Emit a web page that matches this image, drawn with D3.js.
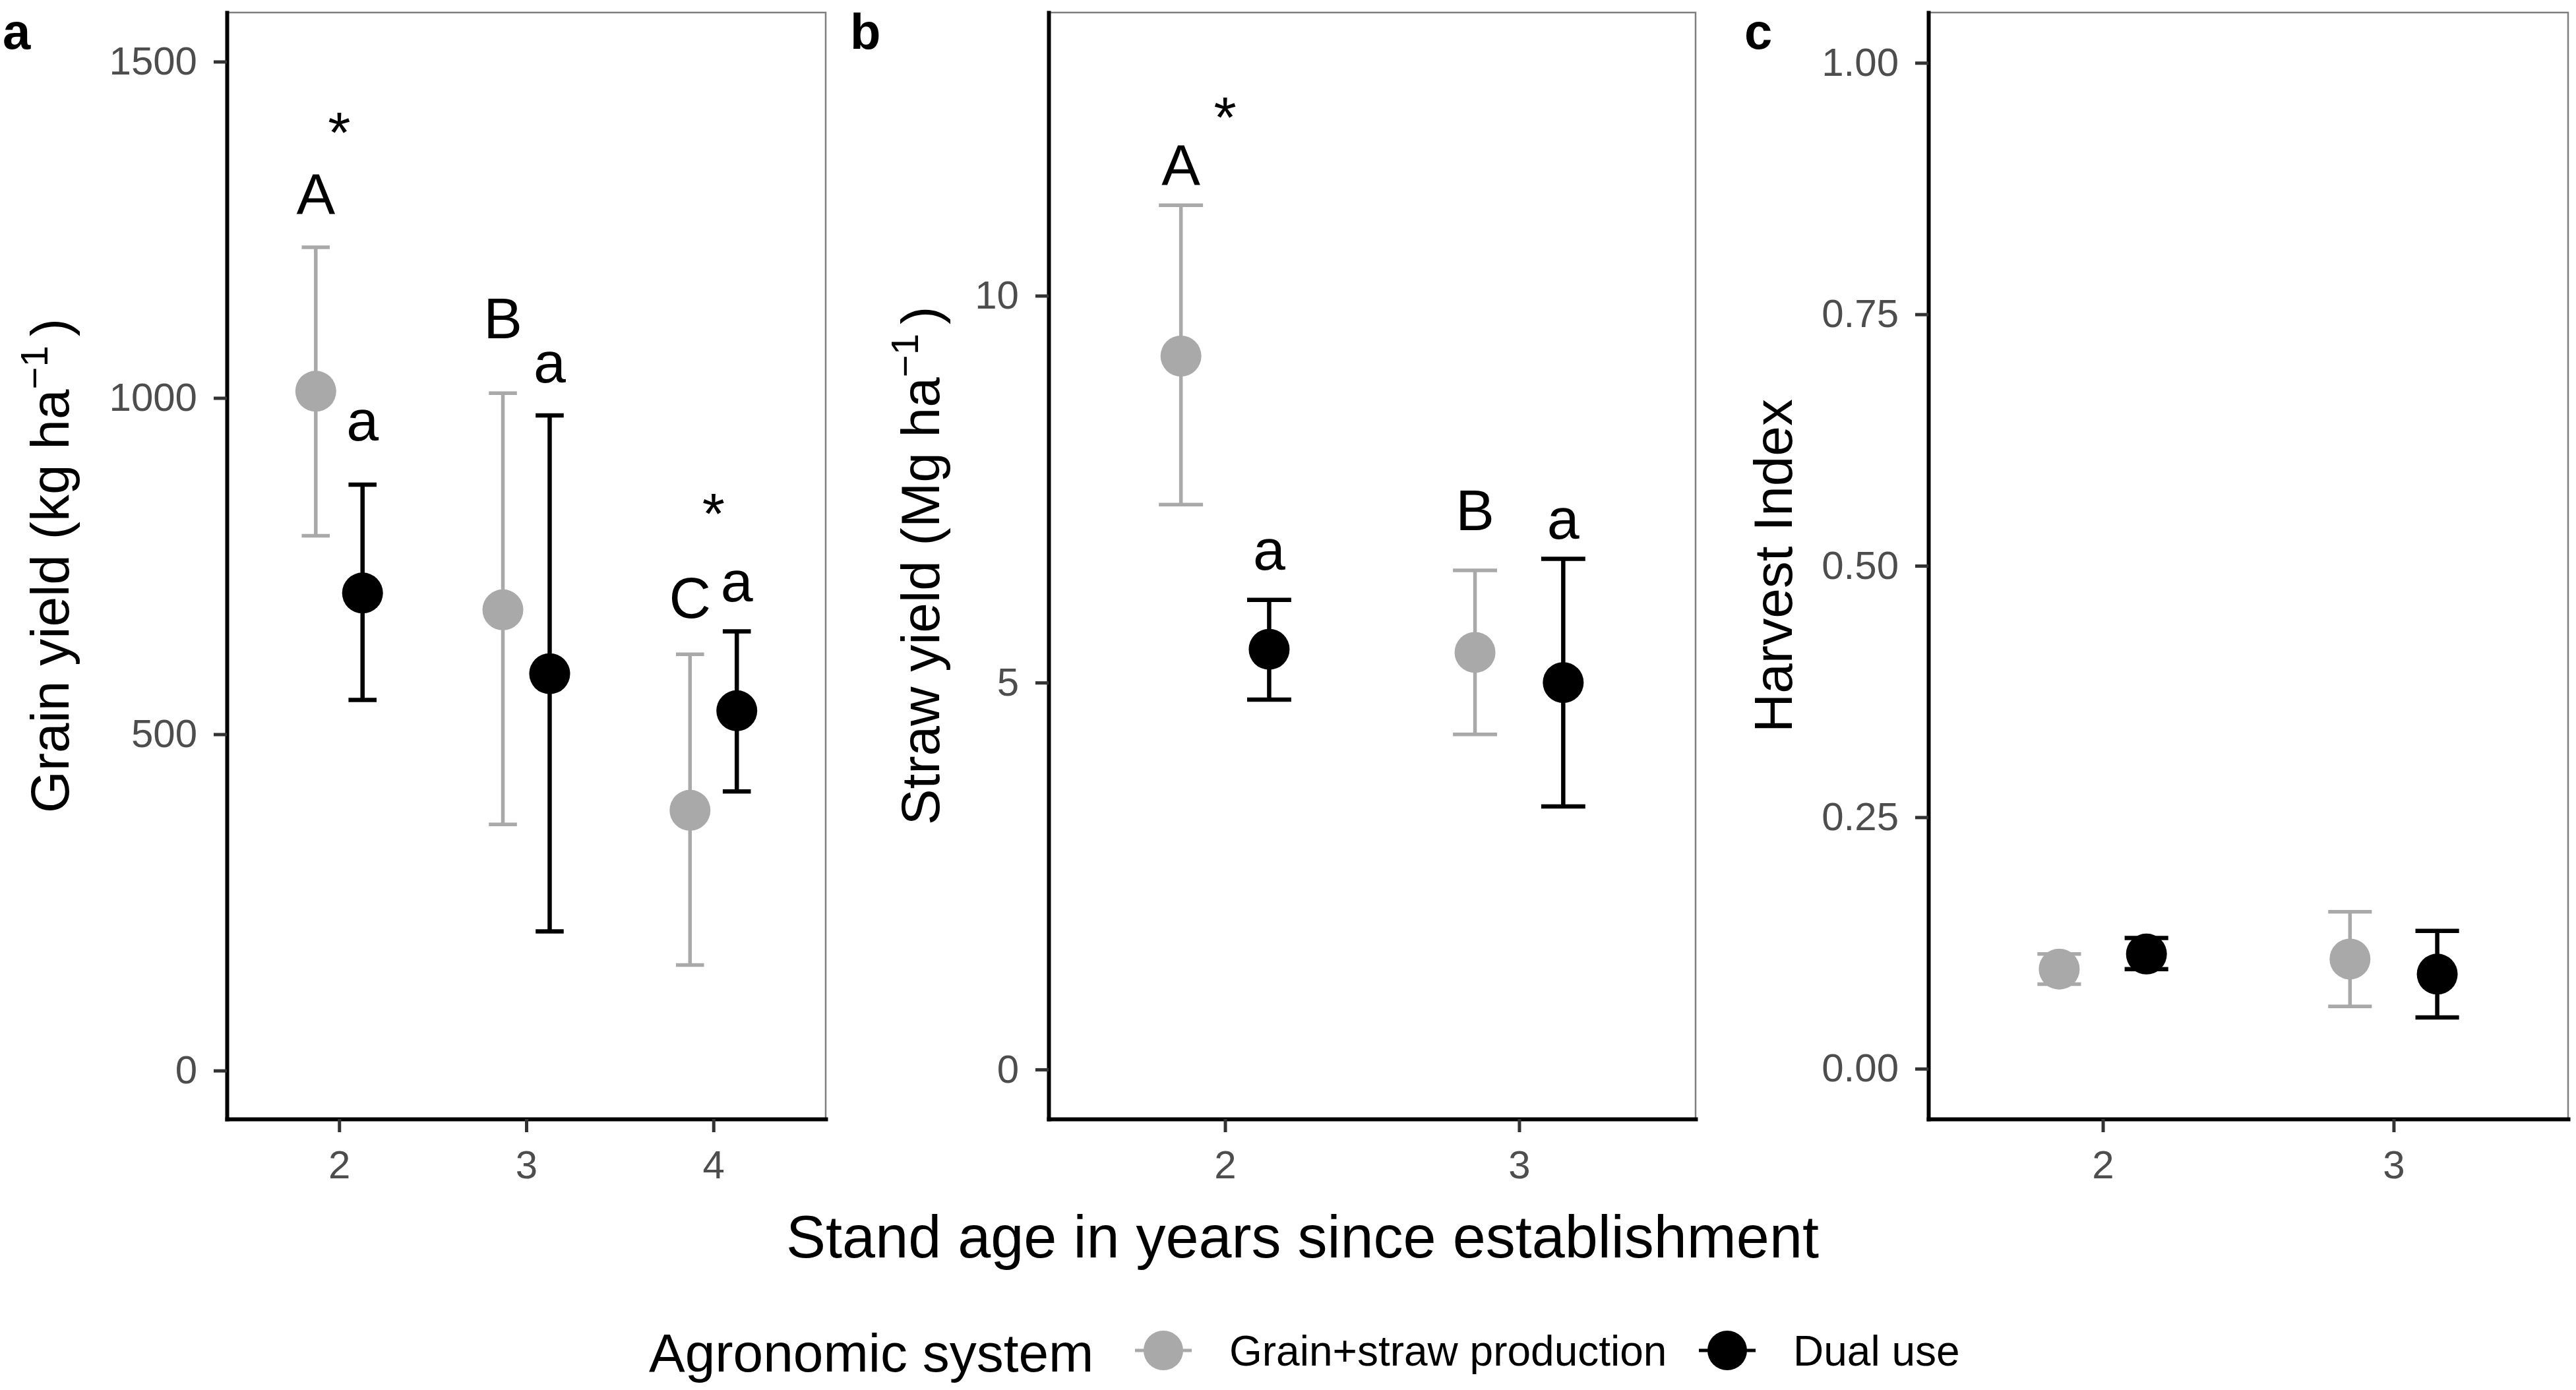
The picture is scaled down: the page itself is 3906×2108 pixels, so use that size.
<!doctype html>
<html>
<head>
<meta charset="utf-8">
<script src="https://d3js.org/d3.v7.min.js"></script>
<style>
    body { margin: 0; background: #fff; }
    svg text { font-family: "Liberation Sans", Arial, sans-serif; }
</style>
</head>
<body>
<script>
// ---- data ----
var systems = ["Grain+straw production", "Dual use"];

// panel a: grain yield (kg/ha)
var grainYears = ["2", "3", "4"];
var grainMeanGS = [1010, 685, 387];
var grainLoGS   = [795, 366, 157];
var grainHiGS   = [1224, 1007, 619];
var grainMeanDU = [710, 590, 535];
var grainLoDU   = [551, 207, 415];
var grainHiDU   = [871, 974, 653];
var grainLetGS  = ["A", "B", "C"];
var grainLetGSy = [1273, 1089, 673];
var grainLetDU  = ["a", "a", "a"];
var grainLetDUy = [937, 1023, 698];
var grainStarYears = ["2", "4"];
var grainStarY  = [1365, 799];
var grainTicks  = [0, 500, 1000, 1500];

// panel b: straw yield (Mg/ha)
var strawYears = ["2", "3"];
var strawMeanGS = [9.22, 5.39];
var strawLoGS   = [7.30, 4.33];
var strawHiGS   = [11.17, 6.45];
var strawMeanDU = [5.43, 5.00];
var strawLoDU   = [4.78, 3.40];
var strawHiDU   = [6.07, 6.60];
var strawLetGS  = ["A", "B"];
var strawLetGSy = [11.43, 6.97];
var strawLetDU  = ["a", "a"];
var strawLetDUy = [6.46, 6.86];
var strawStarYears = ["2"];
var strawStarY  = [12.05];
var strawTicks  = [0, 5, 10];

// panel c: harvest index
var hiYears = ["2", "3"];
var hiMeanGS = [0.099, 0.109];
var hiLoGS   = [0.084, 0.062];
var hiHiGS   = [0.114, 0.156];
var hiMeanDU = [0.114, 0.094];
var hiLoDU   = [0.099, 0.051];
var hiHiDU   = [0.130, 0.137];
var hiTicks  = [0, 0.25, 0.5, 0.75, 1.0];

var colors = ["darkgray", "black"];

var W = 3906, H = 2108;
var plotTop = 19, plotBottom = 1697;

var svg = d3.select("body").append("svg")
    .attr("width", W)
    .attr("height", H)
    .attr("viewBox", "0 0 " + W + " " + H);

var panels = [
    { tag: "a", tagX: 4, left: 344, right: 1252, titleX: 104,
      years: grainYears, domain: [-72, 1573], ticks: grainTicks, fmt: d3.format("d"),
      dodge: 0.125, title: ["Grain yield (kg ha", "\u22121", ")"],
      series: [[grainMeanGS, grainLoGS, grainHiGS], [grainMeanDU, grainLoDU, grainHiDU]],
      letters: [[grainLetGS, grainLetGSy], [grainLetDU, grainLetDUy]],
      stars: [grainStarYears, grainStarY] },
    { tag: "b", tagX: 1289, left: 1590, right: 2571, titleX: 1424,
      years: strawYears, domain: [-0.64, 13.66], ticks: strawTicks, fmt: d3.format("d"),
      dodge: 0.15, title: ["Straw yield (Mg ha", "\u22121", ")"],
      series: [[strawMeanGS, strawLoGS, strawHiGS], [strawMeanDU, strawLoDU, strawHiDU]],
      letters: [[strawLetGS, strawLetGSy], [strawLetDU, strawLetDUy]],
      stars: [strawStarYears, strawStarY] },
    { tag: "c", tagX: 2645, left: 2924, right: 3894, titleX: 2717,
      years: hiYears, domain: [-0.05, 1.05], ticks: hiTicks, fmt: d3.format(".2f"),
      dodge: 0.15, title: ["Harvest Index"],
      series: [[hiMeanGS, hiLoGS, hiHiGS], [hiMeanDU, hiLoDU, hiHiDU]],
      letters: null, stars: null }
];

panels.forEach(function (p) {
    var x = d3.scalePoint().domain(p.years).range([p.left, p.right]).padding(0.6);
    var step = x.step();
    var y = d3.scaleLinear().domain(p.domain).range([plotBottom, plotTop]);
    var g = svg.append("g");

    // grey panel border (top / right show)
    g.append("rect")
        .attr("x", p.left).attr("y", plotTop)
        .attr("width", p.right - p.left).attr("height", plotBottom - plotTop)
        .attr("fill", "none").attr("stroke", "#7f7f7f").attr("stroke-width", 2.5);

    p.series.forEach(function (s, k) {
        var off = (k === 0 ? -1 : 1) * p.dodge * step;
        var rows = p.years.map(function (yr, i) {
            return { yr: yr, m: s[0][i], lo: s[1][i], hi: s[2][i] };
        });
        var sg = g.append("g")
            .attr("stroke", colors[k])
            .attr("stroke-width", k === 0 ? 5.5 : 6.5);
        var eb = sg.selectAll("g").data(rows).enter().append("g");
        eb.append("line")
            .attr("x1", function (d) { return x(d.yr) + off; })
            .attr("x2", function (d) { return x(d.yr) + off; })
            .attr("y1", function (d) { return y(d.lo); })
            .attr("y2", function (d) { return y(d.hi); });
        ["lo", "hi"].forEach(function (e) {
            eb.append("line")
                .attr("x1", function (d) { return x(d.yr) + off - 0.075 * step; })
                .attr("x2", function (d) { return x(d.yr) + off + 0.075 * step; })
                .attr("y1", function (d) { return y(d[e]); })
                .attr("y2", function (d) { return y(d[e]); });
        });
        g.selectAll(null).data(rows).enter().append("circle")
            .attr("cx", function (d) { return x(d.yr) + off; })
            .attr("cy", function (d) { return y(d.m); })
            .attr("r", 31)
            .attr("fill", colors[k]);

        if (p.letters) {
            var lt = p.letters[k];
            g.selectAll(null).data(p.years).enter().append("text")
                .attr("x", function (d) { return x(d) + off; })
                .attr("y", function (d, i) { return y(lt[1][i]); })
                .attr("text-anchor", "middle")
                .attr("font-size", 88)
                .text(function (d, i) { return lt[0][i]; });
        }
    });

    if (p.stars) {
        var st = p.stars;
        g.selectAll(null).data(st[0]).enter().append("text")
            .attr("x", function (d) { return x(d); })
            .attr("y", function (d, i) { return y(st[1][i]); })
            .attr("text-anchor", "middle")
            .attr("font-size", 88)
            .text("*");
    }

    // axes
    var ay = g.append("g")
        .attr("transform", "translate(" + p.left + ",0)")
        .call(d3.axisLeft(y).tickValues(p.ticks).tickFormat(p.fmt)
            .tickSize(20).tickSizeOuter(0).tickPadding(25));
    var ax = g.append("g")
        .attr("transform", "translate(0," + plotBottom + ")")
        .call(d3.axisBottom(x).tickSize(20).tickSizeOuter(0).tickPadding(27));
    [ay, ax].forEach(function (a) {
        a.attr("font-family", null).attr("font-size", null);
        a.select(".domain").attr("stroke", "black").attr("stroke-width", 6)
            .attr("stroke-linecap", "square");
        a.selectAll(".tick line").attr("stroke", "#333333").attr("stroke-width", 5);
        a.selectAll(".tick text").attr("fill", "#4d4d4d").attr("font-size", 60);
    });

    // y title
    var t = g.append("text")
        .attr("transform", "translate(" + p.titleX + "," + (plotTop + plotBottom) / 2 + ") rotate(-90)")
        .attr("text-anchor", "middle")
        .attr("font-size", 82);
    t.append("tspan").text(p.title[0]);
    if (p.title.length > 1) {
        t.append("tspan").attr("dy", -32).attr("font-size", 58).text(p.title[1]);
        t.append("tspan").attr("dy", 32).attr("dx", 14).text(p.title[2]);
    }

    // panel tag
    svg.append("text")
        .attr("x", p.tagX).attr("y", 74)
        .attr("font-size", 76).attr("font-weight", "bold")
        .text(p.tag);
});

// x title
svg.append("text")
    .attr("x", 1975).attr("y", 1907)
    .attr("text-anchor", "middle")
    .attr("font-size", 90)
    .text("Stand age in years since establishment");

// legend
var leg = svg.append("g");
leg.append("text")
    .attr("x", 984).attr("y", 2080)
    .attr("font-size", 82)
    .text("Agronomic system");
var keyX = [1764, 2619];
var keys = leg.selectAll("g.key").data(systems).enter().append("g")
    .attr("class", "key")
    .attr("transform", function (d, i) { return "translate(" + keyX[i] + ",2048)"; });
keys.append("line")
    .attr("x1", -43).attr("x2", 43)
    .attr("stroke", function (d, i) { return colors[i]; })
    .attr("stroke-width", 5);
keys.append("circle")
    .attr("r", 30)
    .attr("fill", function (d, i) { return colors[i]; });
keys.append("text")
    .attr("x", 100).attr("y", 23)
    .attr("font-size", 64)
    .text(function (d) { return d; });
</script>
</body>
</html>
